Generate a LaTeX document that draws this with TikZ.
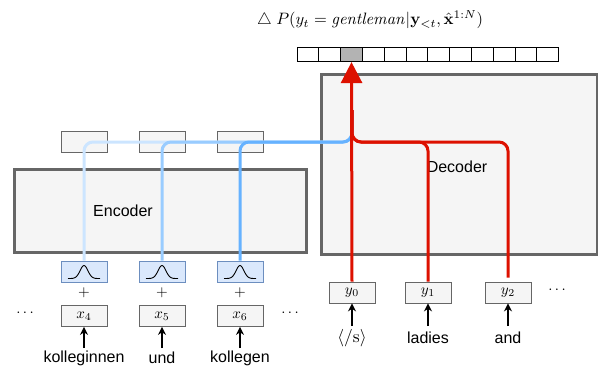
\documentclass[tikz,border=0pt]{standalone}
\usepackage{graphicx}
\usepackage[no-math]{fontspec}
\setmainfont{Liberation Sans}
\usetikzlibrary{arrows.meta}
\definecolor{boxgray}{HTML}{666666}
\definecolor{boxfill}{HTML}{F5F5F5}
\definecolor{gfill}{HTML}{DAE8FC}
\definecolor{gline}{HTML}{6C8EBF}
\definecolor{blueA}{HTML}{CCE5FF}
\definecolor{blueB}{HTML}{99CCFF}
\definecolor{blueC}{HTML}{66B2FF}
\definecolor{redl}{HTML}{DD1100}
\definecolor{cellgray}{HTML}{B3B3B3}
\newcommand{\bm}[2]{\scalebox{#1}{$#2$}}
\begin{document}
\begin{tikzpicture}[x=1pt,y=-1pt,
  bigbox/.style={draw=boxgray, fill=boxfill, line width=3pt, inner sep=0pt},
  smallbox/.style={draw=boxgray, fill=boxfill, line width=0.8pt, minimum width=46pt, minimum height=21pt, inner sep=0pt},
  gbox/.style={draw=gline, fill=gfill, line width=0.8pt, minimum width=46pt, minimum height=21pt, inner sep=0pt},
  cell/.style={draw=black, fill=white, line width=0.8pt, minimum width=21.8pt, minimum height=14pt, inner sep=0pt},
  lbl/.style={font=\fontsize{16}{18}\selectfont, inner sep=0pt},
  blueline/.style={line width=3pt, rounded corners=9pt},
  redline/.style={draw=redl, line width=3pt, rounded corners=9pt},
  inarrow/.style={-{Stealth[length=8pt,width=8pt]}, line width=1.4pt}
]
\useasboundingbox (0,0) rectangle (598,372);

% title
\node[inner sep=0pt] (title) at (370,20) {\bm{1.65}{\triangle\ P(y_t = \mathit{gentleman}|\mathbf{y}_{<t},\hat{\mathbf{x}}^{1:N})}};

% big boxes
\node[bigbox, minimum width=292pt, minimum height=83pt] (enc) at (160,210.5) {};
\node[lbl] (enclabel) at (123,211) {Encoder};
\node[bigbox, minimum width=276pt, minimum height=180pt] (dec) at (459,164) {};
\node[lbl] (declabel) at (457,167) {Decoder};

% output bar
\foreach \i in {1,...,12} {
  \node[cell] (c\i) at ({297+21.8*(\i-0.5)},54.7) {};
}
\node[cell, fill=cellgray] (c3g) at ({297+21.8*2.5},54.7) {};

% encoder side
\foreach \n/\x/\w in {4/84/kolleginnen,5/162/und,6/240/kollegen} {
  \node[smallbox] (h\n) at (\x,141.5) {};
  \node[gbox] (g\n) at (\x,271.5) {};
  \begin{scope}[shift={(g\n.center)}]
    \draw[line width=0.9pt] plot[domain=-16:16, samples=41, smooth] ({\x},{7-13*exp(-(\x/5.5)^2)});
  \end{scope}
  \node[inner sep=0pt] (p\n) at (\x,293) {\bm{1.5}{+}};
  \node[smallbox] (x\n) at (\x,316) {\bm{1.5}{x_{\n}}};
  \node[lbl] (w\n) at (\x,358) {\w};
  \draw[inarrow] (w\n.north |- 0,348) coordinate (wa\n) -- (x\n.south);
}
\node (dl) at (25,313) {\bm{1.5}{\cdots}};
\node (dr) at (290,313) {\bm{1.5}{\cdots}};

% decoder inputs
\node[smallbox] (y0) at (352,292.5) {\bm{1.5}{y_0}};
\node[smallbox] (y1) at (428,292.5) {\bm{1.5}{y_1}};
\node[smallbox] (y2) at (508,292.5) {\bm{1.5}{y_2}};
\node (dd) at (557,290) {\bm{1.5}{\cdots}};
\node[inner sep=0pt] (s0) at (352,338) {\bm{1.75}{\langle/\mathrm{s}\rangle}};
\node[lbl] (s1) at (428,338) {ladies};
\node[lbl] (s2) at (508,338) {and};
\foreach \i in {0,1,2} {
  \draw[inarrow] (y\i.south |- 0,326) coordinate (ya\i) -- (y\i.south);
}

% join point
\coordinate (join) at (352,142);
\coordinate (joinup) at (352,110);

% blue connectors
\draw[blueline, draw=blueA] (g4.north) |- (join) -- (joinup);
\draw[blueline, draw=blueB] (g5.north) |- (join) -- (joinup);
\draw[blueline, draw=blueC] (g6.north) |- (join) -- (joinup);

% red connectors
\draw[redline] (y1.north) |- (join) -- (joinup);
\draw[redline] (y2.north) ++(0,-4) |- (join) -- (joinup);
\draw[draw=redl, line width=3pt, -{Triangle[width=21pt,length=21pt]}] (y0.north) -- (c3g.south);
\end{tikzpicture}
\end{document}
